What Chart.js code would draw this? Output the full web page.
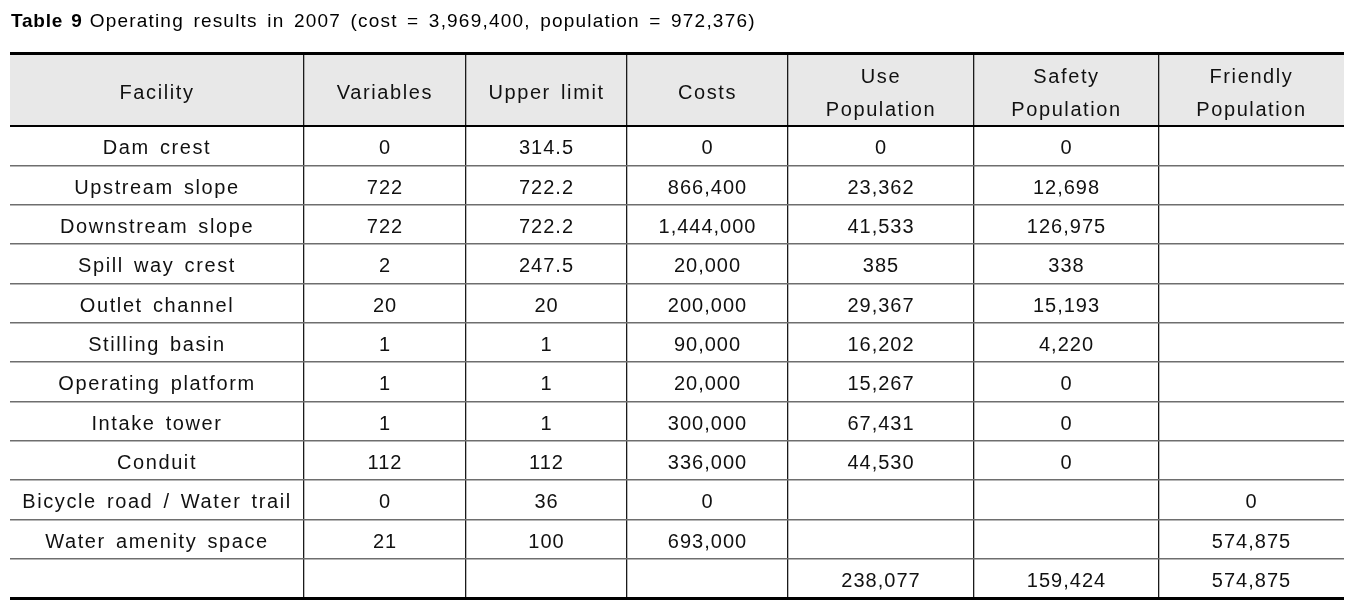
<!DOCTYPE html>
<html><head><meta charset="utf-8">
<script src="https://cdn.jsdelivr.net/npm/chart.js@4.4.1/dist/chart.umd.min.js"></script>
<style>html,body{margin:0;padding:0;background:#fff}#wrap{width:1364px;height:602px;position:relative}</style>
</head><body><div id="wrap"><canvas id="c"></canvas></div>
<script>
// ---- data ----
const titleBold = 'Table 9';
const titleRest = 'Operating results in 2007 (cost = 3,969,400, population = 972,376)';
const headers = [['Facility'], ['Variables'], ['Upper limit'], ['Costs'], ['Use', 'Population'], ['Safety', 'Population'], ['Friendly', 'Population']];
const facilities = ['Dam crest', 'Upstream slope', 'Downstream slope', 'Spill way crest', 'Outlet channel', 'Stilling basin', 'Operating platform', 'Intake tower', 'Conduit', 'Bicycle road / Water trail', 'Water amenity space', ''];
const variables = [0, 722, 722, 2, 20, 1, 1, 1, 112, 0, 21, null];
const upperLimit = [314.5, 722.2, 722.2, 247.5, 20, 1, 1, 1, 112, 36, 100, null];
const costs = [0, 866400, 1444000, 20000, 200000, 90000, 20000, 300000, 336000, 0, 693000, null];
const usePopulation = [0, 23362, 41533, 385, 29367, 16202, 15267, 67431, 44530, null, null, 238077];
const safetyPopulation = [0, 12698, 126975, 338, 15193, 4220, 0, 0, 0, null, null, 159424];
const friendlyPopulation = [null, null, null, null, null, null, null, null, null, 0, 574875, 574875];

// ---- layout (not data) ----
const colEdges = [0, 294, 456, 617, 778, 964, 1149, 1334];
const HEADER_ROWS = 1.86;
const FONT = '"Liberation Sans", Arial, sans-serif';

const columns = [facilities, variables, upperLimit, costs, usePopulation, safetyPopulation, friendlyPopulation];
const nRows = facilities.length;
const center = j => (colEdges[j] + colEdges[j + 1]) / 2;
const fmt = v => v === null || v === undefined ? '' : (typeof v === 'number' ? v.toLocaleString('en-US', {maximumFractionDigits: 1}) : v);

const datasets = columns.map((col, j) => ({
  label: headers[j].join(' '),
  data: col.map((v, i) => ({x: center(j), y: i + 0.5, t: v})),
  pointRadius: 0, pointHoverRadius: 0, showLine: false
}));

const tablePlugin = {
  id: 'tablePlugin',
  beforeDraw(chart) {
    const {ctx, scales: {x, y}} = chart;
    ctx.save();
    ctx.fillStyle = '#e8e8e8';
    const y0 = y.getPixelForValue(-HEADER_ROWS), y1 = y.getPixelForValue(0);
    ctx.fillRect(x.left, y0, x.right - x.left, y1 - y0);
    // title
    ctx.fillStyle = '#000';
    ctx.textBaseline = 'middle';
    ctx.textAlign = 'left';
    ctx.font = 'bold 19px ' + FONT;
    ctx.letterSpacing = '0.8px';
    ctx.wordSpacing = '2px';
    ctx.fillText(titleBold, 11, 22);
    const w = ctx.measureText(titleBold).width;
    ctx.font = '19px ' + FONT;
    ctx.letterSpacing = '1.2px';
    ctx.wordSpacing = '3px';
    ctx.fillText(titleRest, 11 + w + 7, 22);
    ctx.restore();
  },
  afterDatasetsDraw(chart) {
    const {ctx, scales: {x, y}} = chart;
    ctx.save();
    ctx.fillStyle = '#111';
    ctx.textAlign = 'center';
    ctx.textBaseline = 'middle';
    ctx.font = '20px ' + FONT;
    ctx.wordSpacing = '3px';
    // header
    ctx.letterSpacing = '1.6px';
    const hy = y.getPixelForValue(-HEADER_ROWS / 2);
    headers.forEach((lines, j) => {
      const cx = x.getPixelForValue(center(j));
      const lh = 33;
      lines.forEach((ln, k) => {
        ctx.fillText(ln, cx, hy + 4 + (k - (lines.length - 1) / 2) * lh);
      });
    });
    // body cells
    chart.data.datasets.forEach((ds, j) => {
      const meta = chart.getDatasetMeta(j);
      meta.data.forEach((el, i) => {
        const v = ds.data[i].t;
        ctx.letterSpacing = typeof v === 'number' ? '1px' : '1.6px';
        ctx.fillText(fmt(v), el.x, el.y + 3);
      });
    });
    ctx.restore();
  }
};

new Chart(document.getElementById('c'), {
  type: 'scatter',
  data: {datasets},
  options: {
    responsive: true, maintainAspectRatio: false, animation: false,
    layout: {padding: {left: 10, right: 20, top: 53, bottom: 4}},
    plugins: {legend: {display: false}, tooltip: {enabled: false}, title: {display: false}},
    events: [],
    scales: {
      x: {
        type: 'linear', min: colEdges[0], max: colEdges[colEdges.length - 1],
        afterBuildTicks: axis => { axis.ticks = colEdges.map(v => ({value: v})); },
        ticks: {display: false},
        border: {display: false},
        grid: {
          drawTicks: false,
          color: c => (c.tick.value === colEdges[0] || c.tick.value === colEdges[colEdges.length - 1]) ? 'rgba(0,0,0,0)' : '#1a1a1a',
          lineWidth: 1.3
        }
      },
      y: {
        type: 'linear', reverse: true, min: -HEADER_ROWS, max: nRows,
        afterBuildTicks: axis => {
          const t = [{value: -HEADER_ROWS}];
          for (let i = 0; i <= nRows; i++) t.push({value: i});
          axis.ticks = t;
        },
        ticks: {display: false},
        border: {display: false},
        grid: {
          drawTicks: false,
          color: c => (c.tick.value === -HEADER_ROWS || c.tick.value === nRows || c.tick.value === 0) ? '#000' : '#6e6e6e',
          lineWidth: c => (c.tick.value === -HEADER_ROWS || c.tick.value === nRows) ? 3 : (c.tick.value === 0 ? 2 : 1.5)
        }
      }
    }
  },
  plugins: [tablePlugin]
});
</script></body></html>
